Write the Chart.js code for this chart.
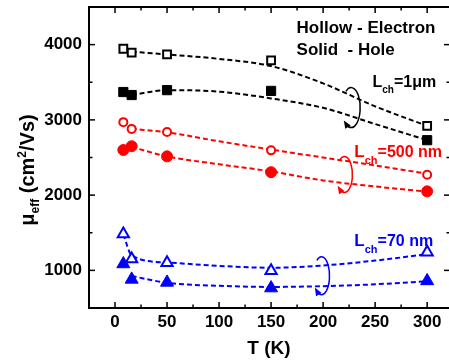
<!DOCTYPE html>
<html>
<head>
<meta charset="utf-8">
<script src="https://cdn.jsdelivr.net/npm/chart.js@4.4.0/dist/chart.umd.min.js"></script>
<style>
  html, body { margin: 0; padding: 0; background: #fff; }
</style>
</head>
<body>
<canvas id="mobility" width="449" height="360"></canvas>
<script>
// measured points (T in K)
const tempK = [8, 16, 50, 150, 300];
const elec1um = [3945, 3895, 3870, 3790, 2920];
const hole1um = [3370, 3330, 3395, 3385, 2730];
const elec500 = [2970, 2880, 2840, 2595, 2270];
const hole500 = [2600, 2650, 2515, 2305, 2050];
const elec70 = [1485, 1150, 1100, 995, 1240];
const hole70 = [1085, 880, 840, 765, 860];

// dashed guide curves
const fitT = [16, 50, 100, 150, 200, 250, 300];
const fitElec1um = [3905, 3870, 3810, 3715, 3485, 3180, 2920];
const fitHole1um = [3330, 3395, 3375, 3285, 3160, 2945, 2730];
const fitElec500 = [2880, 2835, 2715, 2605, 2500, 2395, 2285];
const fitHole500 = [2640, 2515, 2410, 2315, 2195, 2115, 2045];
const fitT70e = [8, 16, 50, 100, 150, 200, 250, 300];
const fitElec70 = [1480, 1200, 1105, 1060, 1035, 1065, 1130, 1215];
const fitHole70 = [925, 835, 795, 780, 790, 815, 855];

const xTicks = [0, 50, 100, 150, 200, 250, 300];
const yTicks = [1000, 2000, 3000, 4000];

const BLACK = '#000000', RED = '#ff0000', BLUE = '#0000ff';
const FAMILY = '"Liberation Sans", Arial, sans-serif';
Chart.defaults.font.family = FAMILY;

const pts = (xs, ys) => xs.map((x, i) => ({ x: x, y: ys[i] }));

function markers(ys, color, style, radius, hollow) {
  return {
    data: pts(tempK, ys),
    showLine: false,
    order: 1,
    pointStyle: style,
    pointRadius: radius,
    pointBorderWidth: hollow ? 2 : 1,
    pointBorderColor: color,
    pointBackgroundColor: hollow ? '#ffffff' : color
  };
}

function fit(xs, ys, color) {
  return {
    data: pts(xs, ys),
    order: 2,
    borderColor: color,
    borderWidth: 2,
    borderDash: [5, 3],
    pointRadius: 0,
    cubicInterpolationMode: 'monotone',
    fill: false
  };
}

// text and loop annotations, placed in data units
const notes = [
  { t: 174.5, v: 4160, color: BLACK, runs: [{ text: 'Hollow - Electron', size: 17 }] },
  { t: 174.5, v: 3860, color: BLACK, runs: [{ text: 'Solid  - Hole', size: 17 }] },
  { t: 247.5, v: 3440, color: BLACK, runs: [{ text: 'L', size: 16 }, { text: 'ch', size: 10, dy: 6 }, { text: '=1\u03bcm', size: 16 }] },
  { t: 230, v: 2512, color: RED, runs: [{ text: 'L', size: 17 }, { text: 'ch', size: 11, dy: 7 }, { text: '=500 nm', size: 16 }] },
  { t: 230, v: 1320, color: BLUE, runs: [{ text: 'L', size: 17 }, { text: 'ch', size: 11, dy: 7 }, { text: '=70 nm', size: 16 }] }
];
const loops = [
  { t: 227, v: 3163, rx: 9, ry: 20, color: BLACK },
  { t: 220.5, v: 2273, rx: 8, ry: 18, color: RED },
  { t: 198.5, v: 929, rx: 8, ry: 19, color: BLUE }
];
const yTitle = [
  { text: '\u03bc', size: 20 }, { text: 'eff', size: 12, dy: 5 },
  { text: ' (cm', size: 20 }, { text: '2', size: 12, dy: -8 }, { text: '/Vs)', size: 20 }
];

function runsWidth(ctx, runs) {
  let w = 0;
  runs.forEach(r => { ctx.font = 'bold ' + r.size + 'px ' + FAMILY; w += ctx.measureText(r.text).width; });
  return w;
}
function drawRuns(ctx, runs, x, y, color) {
  let cx = x;
  ctx.fillStyle = color;
  ctx.textAlign = 'left';
  ctx.textBaseline = 'alphabetic';
  runs.forEach(r => {
    ctx.font = 'bold ' + r.size + 'px ' + FAMILY;
    ctx.fillText(r.text, cx, y + (r.dy || 0));
    cx += ctx.measureText(r.text).width;
  });
}
function drawLoop(ctx, cx, cy, rx, ry, color) {
  const a0 = -2.2, a1 = 2.2;
  ctx.strokeStyle = color;
  ctx.fillStyle = color;
  ctx.lineWidth = 1.5;
  ctx.setLineDash([]);
  ctx.beginPath();
  ctx.ellipse(cx, cy, rx, ry, 0, a0, a1);
  ctx.stroke();
  const ex = cx + rx * Math.cos(a1), ey = cy + ry * Math.sin(a1);
  let tx = -rx * Math.sin(a1), ty = ry * Math.cos(a1);
  const len = Math.hypot(tx, ty);
  tx /= len; ty /= len;
  const s = 4;
  ctx.beginPath();
  ctx.moveTo(ex + tx * s, ey + ty * s);
  ctx.lineTo(ex - tx * s - ty * s * 0.8, ey - ty * s + tx * s * 0.8);
  ctx.lineTo(ex - tx * s + ty * s * 0.8, ey - ty * s - tx * s * 0.8);
  ctx.closePath();
  ctx.fill();
}

const framePlugin = {
  id: 'frame',
  afterDatasetsDraw(chart) {
    const ctx = chart.ctx;
    const a = chart.chartArea;
    const xs = chart.scales.x, ys = chart.scales.y;
    const right = a.right + 1;
    ctx.save();
    ctx.strokeStyle = BLACK;
    ctx.lineWidth = 2;
    ctx.setLineDash([]);
    ctx.strokeRect(a.left, a.top, right - a.left, a.bottom - a.top);

    // inward ticks, major and minor, on all four sides
    const tick = (x1, y1, x2, y2) => { ctx.beginPath(); ctx.moveTo(x1, y1); ctx.lineTo(x2, y2); ctx.stroke(); };
    ctx.lineWidth = 1.5;
    xTicks.forEach(v => {
      const px = xs.getPixelForValue(v);
      tick(px, a.bottom, px, a.bottom - 6);
      tick(px, a.top, px, a.top + 6);
      const m = v + (xTicks[1] - xTicks[0]) / 2;
      if (m < xs.max) {
        const pm = xs.getPixelForValue(m);
        tick(pm, a.bottom, pm, a.bottom - 3.5);
        tick(pm, a.top, pm, a.top + 3.5);
      }
    });
    yTicks.forEach(v => {
      const py = ys.getPixelForValue(v);
      tick(a.left, py, a.left + 6, py);
      tick(right, py, right - 6, py);
      const m = v - (yTicks[1] - yTicks[0]) / 2;
      const pm = ys.getPixelForValue(m);
      if (m > ys.min) {
        tick(a.left, pm, a.left + 3.5, pm);
        tick(right, pm, right - 3.5, pm);
      }
    });

    loops.forEach(l => drawLoop(ctx, xs.getPixelForValue(l.t), ys.getPixelForValue(l.v), l.rx, l.ry, l.color));
    notes.forEach(n => drawRuns(ctx, n.runs, xs.getPixelForValue(n.t), ys.getPixelForValue(n.v), n.color));

    // rotated y title with sub/superscripts
    const w = runsWidth(ctx, yTitle);
    ctx.translate(34, 170);
    ctx.rotate(-Math.PI / 2);
    drawRuns(ctx, yTitle, -w / 2, 0, BLACK);
    ctx.restore();
  }
};

const tickFont = { size: 17, weight: 'bold' };

new Chart(document.getElementById('mobility'), {
  type: 'line',
  data: {
    datasets: [
      markers(elec1um, BLACK, 'rect', 5.5, true),
      markers(hole1um, BLACK, 'rect', 6.5, false),
      markers(elec500, RED, 'circle', 4, true),
      markers(hole500, RED, 'circle', 5.5, false),
      markers(elec70, BLUE, 'triangle', 6.5, true),
      markers(hole70, BLUE, 'triangle', 7.5, false),
      fit(fitT, fitElec1um, BLACK),
      fit(fitT, fitHole1um, BLACK),
      fit(fitT, fitElec500, RED),
      fit(fitT, fitHole500, RED),
      fit(fitT70e, fitElec70, BLUE),
      fit(fitT, fitHole70, BLUE)
    ]
  },
  options: {
    responsive: false,
    animation: false,
    layout: { autoPadding: false, padding: { top: 7, right: 0, left: 0, bottom: 0 } },
    plugins: { legend: { display: false }, tooltip: { enabled: false } },
    scales: {
      x: {
        type: 'linear',
        min: -25,
        max: 321,
        afterBuildTicks: s => { s.ticks = xTicks.map(v => ({ value: v })); },
        afterFit: s => { s.height = 52; s.paddingLeft = 0; s.paddingRight = 0; },
        grid: { display: false, drawTicks: false },
        border: { display: false },
        ticks: { font: tickFont, color: BLACK, padding: 4, maxRotation: 0, callback: v => String(v) },
        title: { display: true, text: 'T (K)', color: BLACK, font: { size: 19, weight: 'bold' }, padding: 0 }
      },
      y: {
        min: 500,
        max: 4500,
        afterBuildTicks: s => { s.ticks = yTicks.map(v => ({ value: v })); },
        afterFit: s => { s.width = 89; s.paddingTop = 0; s.paddingBottom = 0; },
        grid: { display: false, drawTicks: false },
        border: { display: false },
        ticks: { font: tickFont, color: BLACK, padding: 7, callback: v => String(v) }
      }
    }
  },
  plugins: [framePlugin]
});
</script>
</body>
</html>
